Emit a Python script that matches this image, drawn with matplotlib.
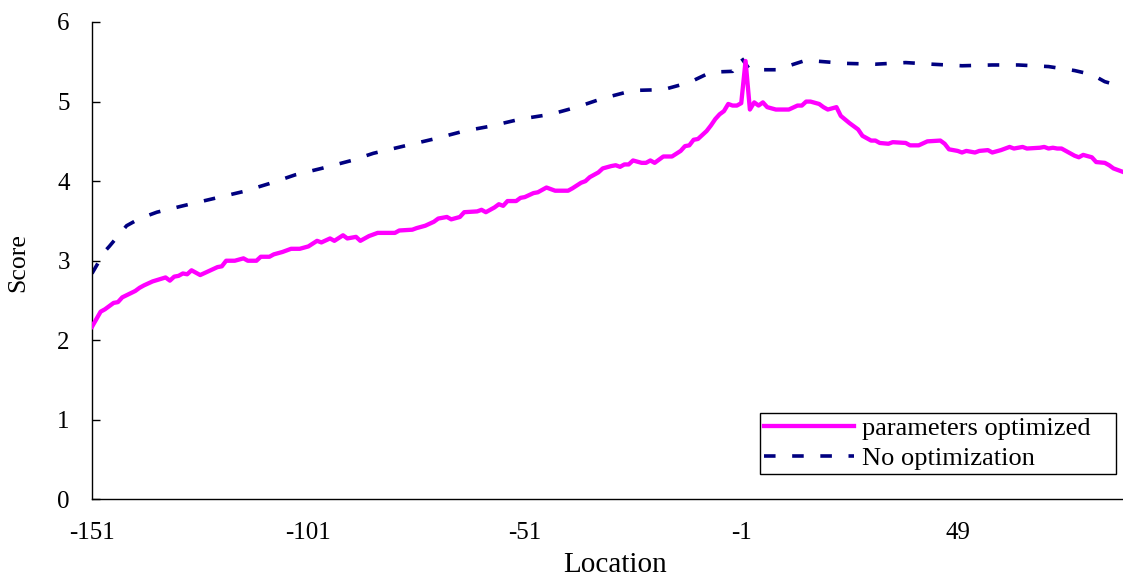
import matplotlib
matplotlib.use("Agg")
import matplotlib.pyplot as plt

# score along the location axis, optimized run
opt_loc = [-151, -149, -148, -146, -145, -144, -141, -140, -139, -137,
           -134, -133, -132, -131, -130, -129, -128, -126, -124, -122,
           -121, -120, -118, -116, -115, -113, -112, -110, -109, -107,
           -106, -105, -103, -101, -99, -98, -96, -95, -93, -92,
           -90, -89, -87, -85, -81, -80, -77, -76, -74, -72,
           -71, -69, -68, -66, -65, -62, -61, -60, -58, -57,
           -56, -55, -53, -52, -51, -49, -48, -46, -44, -41,
           -40, -38, -37, -36, -35, -34, -33, -31, -30, -29,
           -28, -27, -26, -24, -23, -22, -21, -19, -17, -15,
           -14, -13, -12, -11, -10, -9, -8, -7, -6, -5,
           -4, -3, -2, -1, 0, 1, 2, 3, 4, 5,
           7, 10, 12, 13, 14, 15, 17, 18, 19, 21,
           22, 24, 26, 27, 29, 30, 31, 33, 34, 37,
           38, 40, 42, 45, 46, 47, 49, 50, 51, 53,
           54, 56, 57, 59, 61, 62, 64, 65, 68, 69,
           70, 71, 72, 73, 76, 77, 78, 80, 81, 83,
           84, 85, 87]
opt_score = [2.17, 2.36, 2.39, 2.47, 2.48, 2.54, 2.62, 2.66, 2.69, 2.74,
             2.79, 2.75, 2.80, 2.81, 2.84, 2.83, 2.88, 2.82, 2.87, 2.92,
             2.93, 3.00, 3.00, 3.03, 3.00, 3.00, 3.05, 3.05, 3.08, 3.11,
             3.13, 3.15, 3.15, 3.18, 3.25, 3.23, 3.28, 3.25, 3.32, 3.28,
             3.30, 3.25, 3.31, 3.35, 3.35, 3.38, 3.39, 3.41, 3.44, 3.49,
             3.53, 3.55, 3.52, 3.55, 3.61, 3.62, 3.64, 3.61, 3.67, 3.71,
             3.69, 3.75, 3.75, 3.79, 3.80, 3.85, 3.86, 3.92, 3.88, 3.88,
             3.91, 3.98, 4.00, 4.05, 4.08, 4.11, 4.16, 4.19, 4.20, 4.18,
             4.21, 4.21, 4.26, 4.23, 4.23, 4.26, 4.23, 4.31, 4.31, 4.38,
             4.44, 4.45, 4.52, 4.53, 4.58, 4.63, 4.70, 4.78, 4.84, 4.88,
             4.97, 4.95, 4.95, 4.98, 5.51, 4.90, 4.99, 4.95, 4.99, 4.93,
             4.90, 4.90, 4.95, 4.95, 5.00, 5.00, 4.97, 4.93, 4.90, 4.93,
             4.82, 4.73, 4.65, 4.57, 4.51, 4.51, 4.48, 4.47, 4.49, 4.48,
             4.45, 4.45, 4.50, 4.51, 4.47, 4.40, 4.38, 4.36, 4.38, 4.36,
             4.38, 4.39, 4.36, 4.39, 4.43, 4.41, 4.43, 4.41, 4.42, 4.43,
             4.41, 4.42, 4.41, 4.41, 4.32, 4.30, 4.33, 4.30, 4.24, 4.23,
             4.20, 4.16, 4.12]

# score without optimization
base_loc = [-151, -148, -147, -143, -140, -136, -130, -123, -116, -110,
            -104, -98, -91, -86, -79, -72, -65, -59, -52, -45,
            -39, -33, -26, -19, -13, -8, -3, -1, 1, 7,
            10, 14, 16, 23, 30, 37, 43, 50, 57, 63,
            70, 76, 80, 83, 87]
base_score = [2.84, 3.12, 3.18, 3.44, 3.53, 3.61, 3.69, 3.78, 3.87, 3.97,
              4.08, 4.16, 4.26, 4.35, 4.44, 4.53, 4.63, 4.69, 4.78, 4.84,
              4.93, 5.04, 5.14, 5.15, 5.24, 5.37, 5.38, 5.55, 5.40, 5.40,
              5.45, 5.52, 5.51, 5.48, 5.47, 5.49, 5.47, 5.45, 5.46, 5.46,
              5.44, 5.39, 5.34, 5.25, 5.19]

x_ticks = [-151, -101, -51, -1, 49]
y_ticks = [0, 1, 2, 3, 4, 5, 6]

pink = "#FF00FF"
navy = "#000080"

plt.rcParams["font.family"] = ["Liberation Serif", "DejaVu Serif"]

fig = plt.figure(figsize=(11.23, 5.82), dpi=100)
ax = fig.add_axes([0.0819, 0.1418, 0.9181, 0.8204])

ax.plot(opt_loc, opt_score, color=pink, lw=3.1, solid_joinstyle="round",
        label="parameters optimized", zorder=3)
ax.plot(base_loc, base_score, color=navy, lw=2.6, linestyle=(0, (3.2, 4.6)),
        label="No optimization", zorder=2)

ax.set_xlim(-151, 87.2)
ax.set_ylim(0, 6)
ax.set_xticks(x_ticks)
ax.set_yticks(y_ticks)
ax.set_xticklabels([str(v) for v in x_ticks])

for side in ["top", "right"]:
    ax.spines[side].set_visible(False)
for side in ["left", "bottom"]:
    ax.spines[side].set_color("black")
    ax.spines[side].set_linewidth(1.0)

# y ticks point into the plot, x axis has labels only
ax.tick_params(axis="x", length=0, pad=16, labelsize=18, colors="black")
ax.tick_params(axis="y", length=6, width=1.0, direction="in", pad=16,
               labelsize=18, colors="black")

ax.set_ylabel("Score", fontsize=18.5)
ax.yaxis.set_label_coords(-0.061, 0.497)
ax.set_xlabel("Location", fontsize=21, va="center")
ax.xaxis.set_label_coords(0.507, -0.138)

leg = ax.legend(loc="center left", bbox_to_anchor=(0.648, 0.043, 0.345, 0.149),
                mode="expand", fontsize=19, frameon=True, fancybox=False,
                framealpha=1, edgecolor="black", handlelength=3.4,
                handletextpad=0.3, borderpad=0.15, labelspacing=0.25,
                borderaxespad=0)
leg.get_frame().set_linewidth(1.0)

fig.savefig("out.png", dpi=100)
